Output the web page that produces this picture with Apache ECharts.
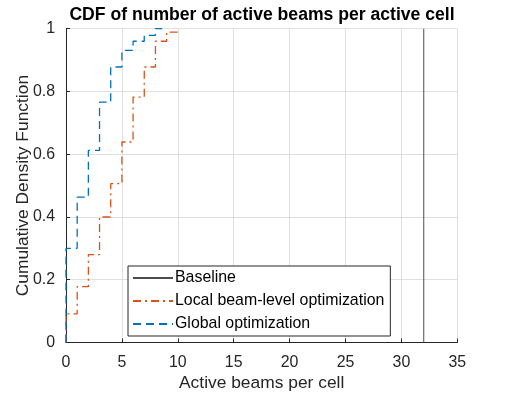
<!DOCTYPE html>
<html>
<head>
<meta charset="utf-8">
<script src="https://cdn.jsdelivr.net/npm/echarts@6/dist/echarts.min.js"></script>
<style>html,body{margin:0;padding:0;background:#fff;}#c{width:506px;height:393px;}</style>
</head>
<body>
<div id="c"></div>
<script>
const seriesNames = ['Baseline', 'Local beam-level optimization', 'Global optimization'];
const baselineX = [32, 32];
const baselineY = [0, 1];
const localX = [0, 0, 1, 2, 3, 4, 5, 6, 7, 8, 9, 10];
const localY = [0, 0.091, 0.178, 0.28, 0.40, 0.506, 0.639, 0.782, 0.878, 0.96, 0.989, 1.0];
const globalX = [0, 0, 1, 2, 3, 4, 5, 6, 7, 8, 8.6];
const globalY = [0, 0.30, 0.463, 0.612, 0.766, 0.878, 0.931, 0.960, 0.979, 1.0, 1.0];
const xTicks = [0, 5, 10, 15, 20, 25, 30, 35];
const yTicks = [0, 0.2, 0.4, 0.6, 0.8, 1];

const pairs = (xs, ys) => xs.map((x, i) => [x, ys[i]]);
const FONT = "'Liberation Sans', Arial, Helvetica, sans-serif";
const AX = '#262626';

const chart = echarts.init(document.getElementById('c'), null, {renderer: 'canvas'});
chart.setOption({
  animation: false,
  backgroundColor: '#fff',
  title: {
    text: 'CDF of number of active beams per active cell',
    left: 257, top: 1, textAlign: 'center',
    textStyle: {fontFamily: FONT, fontSize: 17.6, fontWeight: 'bold', color: '#000'}
  },
  grid: {left: 66, right: 48.7, top: 28.7, bottom: 50.5, containLabel: false, outerBoundsMode: 'none'},
  legend: {
    orient: 'vertical', left: 128, top: 266,
    data: seriesNames,
    itemWidth: 40, itemHeight: 14, itemGap: 7,
    padding: [4, 6, 4, 4],
    borderColor: AX, borderWidth: 1, backgroundColor: '#fff',
    itemStyle: {opacity: 0, borderWidth: 0},
    textStyle: {fontFamily: FONT, fontSize: 15.9, color: '#000', padding: [0, 0, 0, -3]}
  },
  xAxis: {
    type: 'value', min: xTicks[0], max: xTicks[xTicks.length - 1], interval: 5,
    name: 'Active beams per cell', nameLocation: 'middle', nameGap: 32, nameMoveOverlap: false,
    nameTextStyle: {fontFamily: FONT, fontSize: 17.4, color: AX},
    axisLine: {show: true, lineStyle: {color: AX, width: 1}},
    axisTick: {show: true, inside: true, length: 4, lineStyle: {color: AX}},
    axisLabel: {fontFamily: FONT, fontSize: 15.9, color: AX, margin: 12},
    splitLine: {show: true, lineStyle: {color: '#dfdfdf', width: 1}}
  },
  yAxis: {
    type: 'value', min: yTicks[0], max: yTicks[yTicks.length - 1], interval: 0.2,
    name: 'Cumulative Density Function', nameLocation: 'middle', nameGap: 34, nameMoveOverlap: false,
    nameTextStyle: {fontFamily: FONT, fontSize: 17.4, color: AX},
    axisLine: {show: true, lineStyle: {color: AX, width: 1}},
    axisTick: {show: true, inside: true, length: 4, lineStyle: {color: AX}},
    axisLabel: {fontFamily: FONT, fontSize: 15.9, color: AX, margin: 11,
      formatter: v => String(Math.round(v * 10) / 10)},
    splitLine: {show: true, lineStyle: {color: '#dfdfdf', width: 1}}
  },
  series: [
    {name: seriesNames[0], type: 'line', data: pairs(baselineX, baselineY), symbol: 'none',
     lineStyle: {color: '#4d4d4d', width: 1}, itemStyle: {color: '#4d4d4d'}},
    {name: seriesNames[1], type: 'line', step: 'end', data: pairs(localX, localY), symbol: 'none',
     lineStyle: {color: '#D95319', width: 1.3, type: [8, 4, 2, 4]}, itemStyle: {color: '#D95319'}},
    {name: seriesNames[2], type: 'line', step: 'end', data: pairs(globalX, globalY), symbol: 'none',
     lineStyle: {color: '#0072BD', width: 1.3, type: [8, 5]}, itemStyle: {color: '#0072BD'}}
  ]
});
</script>
</body>
</html>
